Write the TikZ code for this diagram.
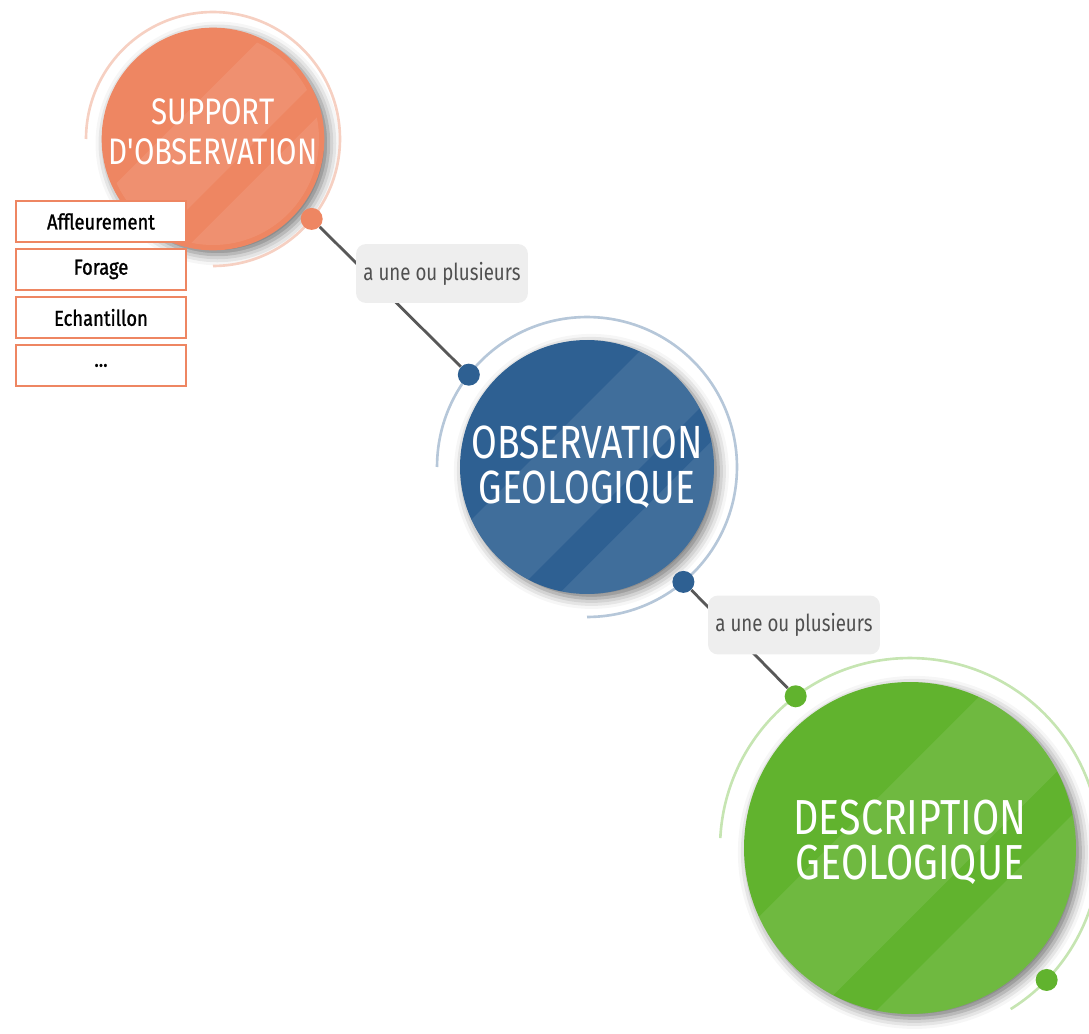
\documentclass[tikz,border=0pt]{standalone}
\usepackage{fontspec}
\setmainfont{Fira Sans}
\newfontfamily\handfont[FakeStretch=0.8]{Fira Sans}
\newfontfamily\boxfont[FakeStretch=0.85, FakeBold=1.2]{Fira Sans}
\usetikzlibrary{positioning, shadows.blur}

\definecolor{supcolor}{RGB}{238,134,98}
\definecolor{supring}{RGB}{246,208,194}
\definecolor{obscolor}{RGB}{46,96,146}
\definecolor{obsring}{RGB}{182,199,217}
\definecolor{desccolor}{RGB}{97,179,46}
\definecolor{descring}{RGB}{198,229,178}
\definecolor{linkgray}{RGB}{88,88,88}
\definecolor{labelgray}{RGB}{238,238,238}
\definecolor{labeltext}{RGB}{80,80,80}

\tikzset{
	bigdisc/.style={circle, inner sep=0pt, text=white, align=center, blur shadow={shadow xshift=2.5pt, shadow yshift=-2.5pt, shadow blur radius=6pt, shadow opacity=55}}, % the three coloured discs
	ring/.style={line width=1.5pt}, % thin arc around each disc
	dot/.style={circle, inner sep=0pt, minimum size=0.44cm}, % small round ends of the connectors
	link/.style={line width=1.6pt, draw=linkgray}, % grey connector
	relation/.style={rounded corners=0.2cm, fill=labelgray, text=labeltext, minimum width=3.44cm, minimum height=1.18cm, font=\handfont\fontsize{13.3}{15}\selectfont}, % label on a connector
	kind/.style={draw=supcolor, line width=1.5pt, outer sep=0pt, fill=white, minimum width=3.4cm, minimum height=0.82cm, font=\boxfont\fontsize{12.3}{14}\selectfont}, % list of supports
	stripe/.style={fill=white, fill opacity=0.09}, % light diagonal bands
}

\begin{document}
\begin{tikzpicture}[x=0.02cm, y=0.02cm]
	\useasboundingbox (0,0) rectangle (1089,-1034);

	% discs
	\node[bigdisc, fill=supcolor, minimum size=4.24cm, text depth=8pt, font=\handfont\fontsize{21}{22.7}\selectfont] (sup) at (213,-139) {SUPPORT\\D'OBSERVATION};
	\node[bigdisc, fill=obscolor, minimum size=5.08cm, font=\handfont\fontsize{26.5}{25.5}\selectfont] (obs) at (587,-467) {OBSERVATION\\GEOLOGIQUE};
	\node[bigdisc, fill=desccolor, minimum size=6.64cm, text depth=9pt, font=\handfont\fontsize{28}{25.5}\selectfont] (desc) at (910,-848) {DESCRIPTION\\GEOLOGIQUE};

	% light bands across the discs
	\foreach \n/\r in {sup/106, obs/127, desc/166} {
		\begin{scope}
			\clip (\n.center) circle[radius={\r*0.02cm}];
			\fill[stripe, shift={(\n.center)}, rotate=45] ({-1.2*\r},{-0.3*\r}) rectangle ({1.2*\r},{0.35*\r});
			\fill[stripe, shift={(\n.center)}, rotate=45] ({-1.2*\r},{-1.2*\r}) rectangle ({1.2*\r},{-0.55*\r});
		\end{scope}
	}

	% rings
	\draw[ring, supring] (sup.center) ++(180:2.54cm) arc[start angle=180, end angle=-90, radius=2.54cm];
	\draw[ring, obsring] (obs.center) ++(180:3cm) arc[start angle=180, end angle=-90, radius=3cm];
	\draw[ring, descring] (desc.center) ++(177:3.8cm) arc[start angle=177, end angle=-58, radius=3.8cm];

	% connector ends
	\node[dot, fill=supcolor] (d1) at ([shift={(-39:2.54cm)}]sup.center) {};
	\node[dot, fill=obscolor] (d2) at ([shift={(142:3cm)}]obs.center) {};
	\node[dot, fill=obscolor] (d3) at ([shift={(-50:3cm)}]obs.center) {};
	\node[dot, fill=desccolor] (d4) at ([shift={(127:3.8cm)}]desc.center) {};
	\node[dot, fill=desccolor] (d5) at ([shift={(-44:3.8cm)}]desc.center) {};

	\draw[link] (d1) -- (d2);
	\draw[link] (d3) -- (d4);

	\node[relation] (r1) at (442,-273.5) {a une ou plusieurs};
	\node[relation] (r2) at (794,-625) {a une ou plusieurs};

	% kinds of support
	\node[kind] (b1) at (101,-221.5) {Affleurement};
	\node[kind, below=0.14cm of b1] (b2) {Forage};
	\node[kind, below=0.14cm of b2] (b3) {Echantillon};
	\node[kind, below=0.14cm of b3] (b4) {...};
\end{tikzpicture}
\end{document}
